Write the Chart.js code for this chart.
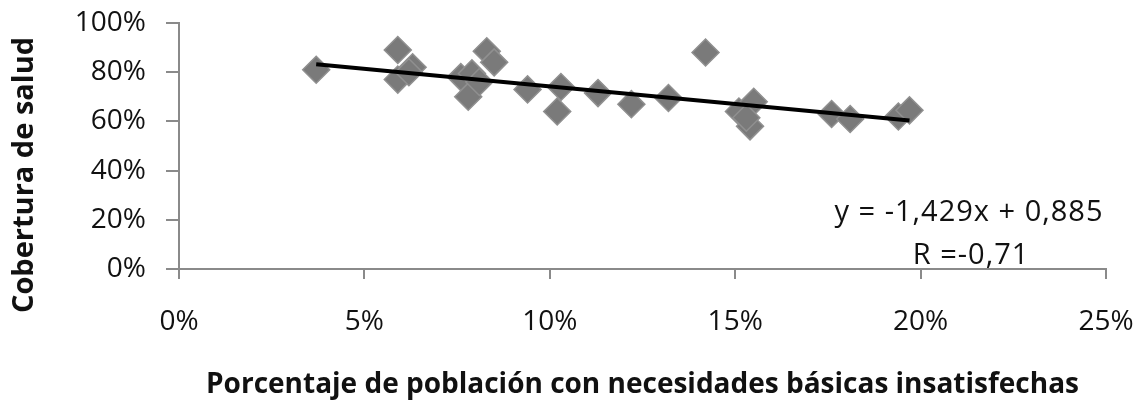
<!DOCTYPE html>
<html>
<head>
<meta charset="utf-8">
<script src="https://cdn.jsdelivr.net/npm/chart.js@4"></script>
<style>
    body { margin: 0; background: #fff; }
    #wrap { width: 1134px; height: 409px; }
</style>
</head>
<body>
<div id="wrap"><canvas id="nbiChart"></canvas></div>
<script>
// % de población con NBI por municipio
var nbi = [3.7, 5.9, 6.3, 5.9, 6.2, 7.6, 7.9, 7.8, 8.1, 8.3, 8.5, 9.4, 10.3, 10.2, 11.3, 12.2, 13.2, 14.2, 15.1, 15.5, 15.4, 15.3, 17.6, 18.1, 19.4, 19.7];
// % de cobertura de salud, mismo orden
var cobertura = [81, 89, 82, 77, 80, 78, 79.5, 70, 76, 88.5, 84, 73, 74, 64, 71.5, 67, 69.5, 88, 64, 68, 58, 61.5, 63, 61, 62, 64.5];

// recta de tendencia (en fracciones): y = -1,429x + 0,885
var pendiente = -1.429;
var intercepto = 0.885;
var rTexto = 'R =-0,71';

var xTicks = [0, 5, 10, 15, 20, 25];
var yTicks = [0, 20, 40, 60, 80, 100];

var puntos = nbi.map(function (x, i) { return { x: x, y: cobertura[i] }; });
var xMin = Math.min.apply(null, nbi);
var xMax = Math.max.apply(null, nbi);
var recta = [xMin, xMax].map(function (x) {
    return { x: x, y: (pendiente * x / 100 + intercepto) * 100 };
});

var ejeGris = '#8a8a8a';
var fuente = "'Open Sans', sans-serif";

// textos sueltos: título del eje Y y la ecuación
var textosPlugin = {
    id: 'textos',
    afterDraw: function (chart) {
        var c = chart.ctx;
        var area = chart.chartArea;
        c.save();
        c.fillStyle = '#111';
        c.textAlign = 'center';
        c.textBaseline = 'middle';
        c.font = '29px ' + fuente;
        c.letterSpacing = '1px';
        var eq = 'y = ' + pendiente.toFixed(3).replace('.', ',') + 'x + ' + intercepto.toFixed(3).replace('.', ',');
        c.fillText(eq, area.right - 137, area.bottom - 56);
        c.fillText(rTexto, area.right - 135, area.bottom - 13);

        c.letterSpacing = '0px';
        c.translate(25, 175);
        c.rotate(-Math.PI / 2);
        c.font = 'bold 29px ' + fuente;
        c.fillText('Cobertura de salud', 0, 0);
        c.restore();
    }
};

new Chart(document.getElementById('nbiChart'), {
    type: 'scatter',
    data: {
        datasets: [
            {
                label: 'Tendencia',
                type: 'line',
                data: recta,
                borderColor: '#000',
                borderWidth: 4,
                pointRadius: 0,
                fill: false,
                order: 0
            },
            {
                label: 'Municipios',
                data: puntos,
                pointStyle: 'rectRot',
                pointRadius: 13.5,
                pointHoverRadius: 13.5,
                backgroundColor: '#7a7a7a',
                borderColor: '#909090',
                borderWidth: 1.5,
                order: 1
            }
        ]
    },
    options: {
        responsive: true,
        maintainAspectRatio: false,
        animation: false,
        layout: { padding: { top: 23, right: 28, left: 0, bottom: 0 } },
        plugins: {
            legend: { display: false },
            tooltip: { enabled: false }
        },
        scales: {
            x: {
                type: 'linear',
                min: 0,
                max: 25,
                afterBuildTicks: function (scale) {
                    scale.ticks = xTicks.map(function (v) { return { value: v }; });
                },
                afterFit: function (scale) {
                    scale.height = 140;
                    scale.paddingLeft = 0;
                    scale.paddingRight = 0;
                },
                border: { display: true, color: ejeGris, width: 2 },
                grid: { drawOnChartArea: false, drawTicks: true, tickLength: 10, color: ejeGris, lineWidth: 2 },
                ticks: {
                    padding: 26,
                    color: '#111',
                    font: { family: fuente, size: 28 },
                    callback: function (v) { return v + '%'; }
                },
                title: {
                    display: true,
                    text: 'Porcentaje de población con necesidades básicas insatisfechas',
                    color: '#111',
                    font: { family: fuente, size: 28, weight: 'bold' },
                    padding: { top: 0, bottom: 7 }
                }
            },
            y: {
                min: 0,
                max: 100,
                afterBuildTicks: function (scale) {
                    scale.ticks = yTicks.map(function (v) { return { value: v }; });
                },
                afterFit: function (scale) {
                    scale.width = 179;
                    scale.paddingTop = 0;
                    scale.paddingBottom = 0;
                },
                border: { display: true, color: ejeGris, width: 2 },
                grid: { drawOnChartArea: false, drawTicks: true, tickLength: 13, color: ejeGris, lineWidth: 2 },
                ticks: {
                    padding: 20,
                    color: '#111',
                    font: { family: fuente, size: 28 },
                    callback: function (v) { return v + '%'; }
                }
            }
        }
    },
    plugins: [textosPlugin]
});
</script>
</body>
</html>
